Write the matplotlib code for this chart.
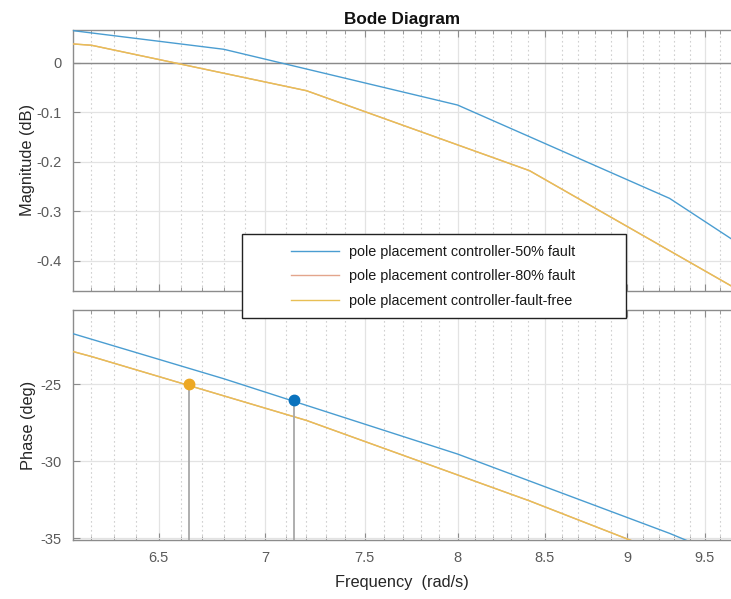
import numpy as np
import matplotlib
matplotlib.use("Agg")
import matplotlib.pyplot as plt
from matplotlib.patches import Rectangle
from matplotlib.lines import Line2D

plt.rcParams['font.family'] = ['Liberation Sans', 'DejaVu Sans']

# ---- data ----
freq_50 = [5.81, 6.80, 8.00, 9.27, 10.8]            # rad/s
mag_50 = [0.0836, 0.0271, -0.0855, -0.274, -0.565]  # dB
phase_50 = [-20.25, -24.64, -29.53, -34.68, -40.6]  # deg

freq_80 = [5.343, 6.203, 7.203, 8.41, 9.8]
mag_80 = [0.0659, 0.0352, -0.0566, -0.218, -0.472]
phase_80 = [-19.45, -23.2, -27.35, -32.57, -38.14]

freq_ff = [5.343, 6.203, 7.203, 8.41, 9.8]
mag_ff = [0.0659, 0.0352, -0.0566, -0.218, -0.472]
phase_ff = [-19.45, -23.2, -27.35, -32.57, -38.14]

tip_freq = [6.64, 7.14]
tip_phase = [-25.0, -26.0]

xticks = [6.5, 7, 7.5, 8, 8.5, 9, 9.5]
xticklabels = ['6.5', '7', '7.5', '8', '8.5', '9', '9.5']
mag_ticks = [0, -0.1, -0.2, -0.3, -0.4]
mag_ticklabels = ['0', '-0.1', '-0.2', '-0.3', '-0.4']
phase_ticks = [-25, -30, -35]
phase_ticklabels = ['-25', '-30', '-35']

labels = ['pole placement controller-50% fault',
          'pole placement controller-80% fault',
          'pole placement controller-fault-free']

c50 = '#4A9DD1'
c80 = '#E3A58C'
cff = '#E8BF55'
spine_c = '#8C8C8C'
tick_c = '#5A5A5A'

W, H = 731, 599
fig = plt.figure(figsize=(W / 100, H / 100), dpi=100)

left = 73 / W
width = 1.0 - left
ax1 = fig.add_axes([left, 1 - 291 / H, width, 261 / H])
ax2 = fig.add_axes([left, 1 - 540 / H, width, 230 / H])

xlim = (6.124, 9.674)
minor = [round(float(v), 1) for v in np.arange(6.1, 9.75, 0.1)]
minor = [m for m in minor if m not in xticks and xlim[0] <= m <= xlim[1]]

for ax in (ax1, ax2):
    ax.set_xscale('log')
    ax.set_xlim(*xlim)
    ax.xaxis.set_major_locator(matplotlib.ticker.FixedLocator(xticks))
    ax.xaxis.set_minor_locator(matplotlib.ticker.FixedLocator(minor))
    ax.xaxis.set_minor_formatter(matplotlib.ticker.NullFormatter())
    ax.grid(True, which='major', color='#E3E3E3', lw=0.9, ls='-')
    ax.grid(True, which='minor', axis='x', color='#D0D0D0', lw=0.8, ls=(0, (1.5, 2.5)))
    ax.set_axisbelow(True)
    for s in ('left', 'top', 'bottom'):
        ax.spines[s].set_color(spine_c)
        ax.spines[s].set_linewidth(1.0)
    ax.spines['right'].set_visible(False)
    ax.tick_params(which='both', direction='in', top=True, bottom=True,
                   right=False, color=spine_c, labelcolor=tick_c,
                   labelsize=10.5)
    ax.tick_params(which='major', length=5, pad=8)
    ax.tick_params(which='minor', length=3)
    ax.tick_params(axis='y', pad=8)

# magnitude
ax1.plot(freq_50, mag_50, color=c50, lw=1.0, zorder=3)
ax1.plot(freq_80, mag_80, color=c80, lw=1.0, zorder=3)
ax1.plot(freq_ff, mag_ff, color=cff, lw=1.0, zorder=3)
ax1.axhline(0, color='#8A8A8A', lw=1.0, zorder=2)
ax1.set_ylim(-0.461, 0.066)
ax1.set_yticks(mag_ticks)
ax1.set_yticklabels(mag_ticklabels)
ax1.set_xticklabels([])
ax1.set_ylabel('Magnitude (dB)', fontsize=11.8, color='#262626', labelpad=1)
ax1.set_title('Bode Diagram', fontsize=12.3, fontweight='bold', color='#111111', pad=4)

# phase
ylo2 = -35.11
ax2.plot(freq_50, phase_50, color=c50, lw=1.0, zorder=3)
ax2.plot(freq_80, phase_80, color=c80, lw=1.0, zorder=3)
ax2.plot(freq_ff, phase_ff, color=cff, lw=1.0, zorder=3)
ax2.set_ylim(ylo2, -20.18)
ax2.set_yticks(phase_ticks)
ax2.set_yticklabels(phase_ticklabels)
ax2.set_xticklabels(xticklabels)
ax2.set_ylabel('Phase (deg)', fontsize=11.8, color='#262626', labelpad=3)
ax2.set_xlabel('Frequency  (rad/s)', fontsize=11.8, color='#262626', labelpad=7)

tip_colors = ['#EDA824', '#0A72BD']
for f, p, c in zip(tip_freq, tip_phase, tip_colors):
    ax2.vlines(f, ylo2, p, color='#A8A8A8', lw=1.3, zorder=4)
    ax2.plot([f], [p], 'o', color=c, ms=7.5, mec=c, zorder=5)

# legend with a manually drawn frame
rect = Rectangle((242 / W, 1 - 318 / H), (626 - 242) / W, (318 - 234) / H,
                 transform=fig.transFigure, facecolor='white',
                 edgecolor='#222222', lw=1.0, zorder=4)
fig.add_artist(rect)
handles = [Line2D([], [], color=c, lw=1.0) for c in (c50, c80, cff)]
fig.legend(handles, labels, loc='center',
           bbox_to_anchor=(433 / W, 1 - 276.5 / H), frameon=False,
           fontsize=10.4, handlelength=3.3, handletextpad=0.7,
           labelspacing=0.75, borderpad=0.0, labelcolor='#1A1A1A')

fig.savefig('out.png', dpi=100)
